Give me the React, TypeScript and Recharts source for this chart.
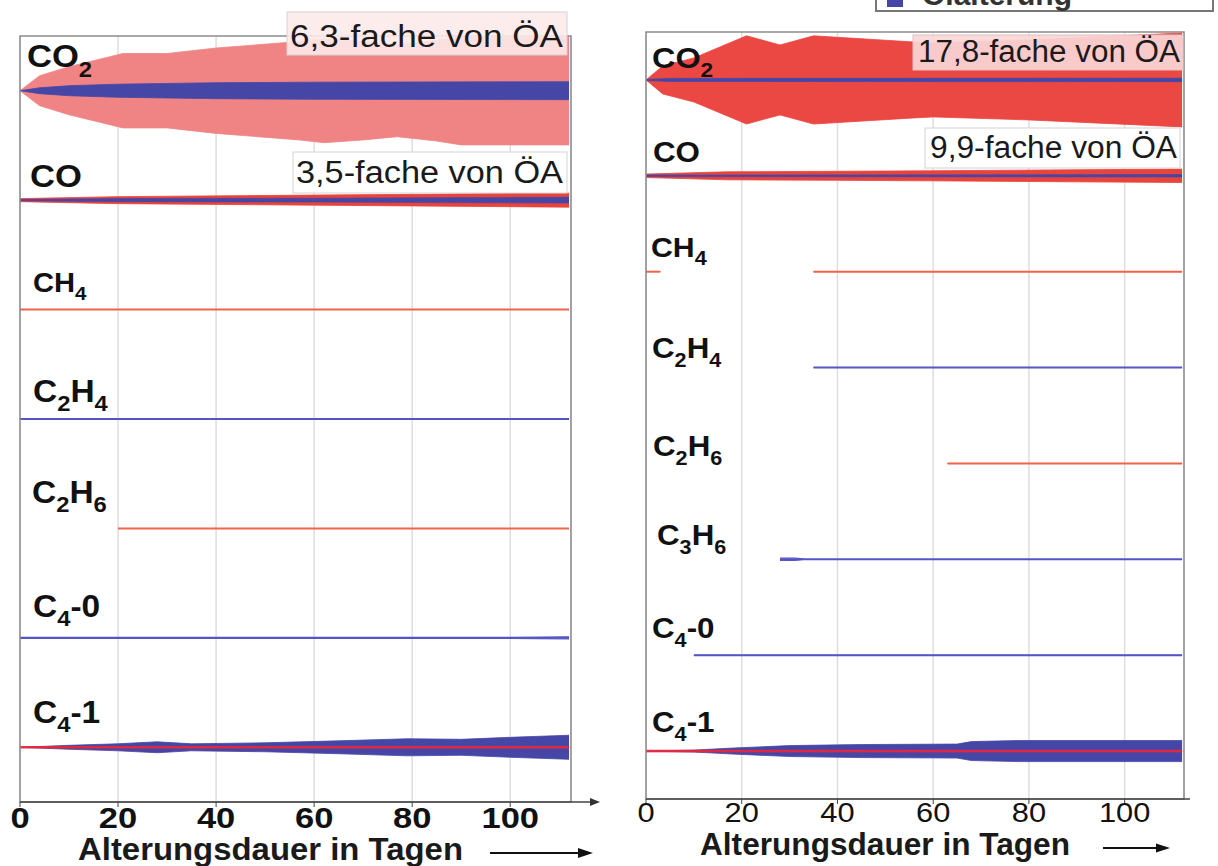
import React from "react";
import { ComposedChart, Area, XAxis, YAxis, CartesianGrid, ReferenceArea, ReferenceLine } from "recharts";

const FONT = "'Liberation Sans', Arial, Helvetica, sans-serif";
const ROW = 100;
const DAY_MAX = 112.4;
const dayTicks = [0, 20, 40, 60, 80, 100];

// ---------- gas names (rows, top to bottom) ----------
const leftGases = ["CO_2", "CO", "CH_4", "C_2H_4", "C_2H_6", "C_4-0", "C_4-1"];
const rightGases = ["CO_2", "CO", "CH_4", "C_2H_4", "C_2H_6", "C_3H_6", "C_4-0", "C_4-1"];

// ---------- left panel: half-widths of the bands (relative units, row = 100) ----------
const lCo2RedDays = [0, 4, 10, 21, 30, 40, 57, 62, 70, 77, 85, 90, 112];
const lCo2Red = [0, 13.7, 22, 34, 34, 39, 45, 47.5, 45, 42, 46, 49.5, 49.5];
const lCo2BlueDays = [0, 4, 10, 20, 40, 60, 112];
const lCo2Blue = [0, 2.7, 4.6, 6, 7.3, 7.8, 8.2];
const lCoDays = [0, 20, 60, 112];
const lCoRed = [1.4, 3.2, 4.6, 6.4];
const lCoBlue = [0.5, 1.4, 1.8, 2.7];
const lCh4Days = [0, 112];
const lCh4 = [0.4, 0.4];
const lC2h4Days = [0, 112];
const lC2h4 = [0.4, 0.4];
const lC2h6Days = [20, 112];
const lC2h6 = [0.4, 0.4];
const lC40Days = [0, 100, 112];
const lC40 = [0.4, 0.4, 0.9];
const lC41BlueDays = [0, 10, 20, 28, 35, 50, 65, 79, 90, 100, 112];
const lC41Blue = [0, 1.8, 3.2, 5, 3.2, 4.1, 5.9, 7.8, 7.3, 9.1, 11];
const lC41RedDays = [0, 112];
const lC41Red = [0.6, 0.6];

// ---------- right panel ----------
const rCo2RedDays = [0, 3.5, 10, 21, 28, 35, 56, 60, 80, 112];
const rCo2Red = [0, 14.6, 23, 46, 36.5, 46, 39.6, 38.6, 41.7, 49];
const rCo2BlueDays = [0, 5, 112];
const rCo2Blue = [0.5, 1.6, 1.8];
const rCoRedDays = [0, 17, 40, 59, 90, 112];
const rCoRed = [1.8, 4.2, 4.7, 5.2, 6.3, 7];
const rCoBlueDays = [0, 112];
const rCoBlue = [0.8, 1.3];
const rCh4aDays = [0, 3];
const rCh4a = [0.4, 0.4];
const rCh4bDays = [35, 112];
const rCh4b = [0.4, 0.4];
const rC2h4Days = [35, 112];
const rC2h4 = [0.4, 0.4];
const rC2h6Days = [63, 112];
const rC2h6 = [0.4, 0.4];
const rC3h6Days = [28, 31, 33, 112];
const rC3h6 = [1.2, 1.2, 0.4, 0.4];
const rC40Days = [10, 112];
const rC40 = [0.4, 0.4];
const rC41BlueDays = [0, 10, 18, 30, 45, 65, 68, 78, 112];
const rC41Blue = [0, 1, 3.1, 5.7, 6.8, 7.3, 9.9, 11, 11];
const rC41RedDays = [0, 112];
const rC41Red = [0.8, 0.8];

// ---------- colours ----------
const BLUE = "#4646a6";
const BLUE_LINE = "#5555c4";
const RED_LINE = "#f0604a";

type Series = { key: string; row: number; days: number[]; hw: number[]; color: string; sw: number };

const leftSeries: Series[] = [
  { key: "co2r", row: 0, days: lCo2RedDays, hw: lCo2Red, color: "#f08484", sw: 0.8 },
  { key: "co2b", row: 0, days: lCo2BlueDays, hw: lCo2Blue, color: BLUE, sw: 0.8 },
  { key: "cor", row: 1, days: lCoDays, hw: lCoRed, color: "#e8443c", sw: 0.8 },
  { key: "cob", row: 1, days: lCoDays, hw: lCoBlue, color: BLUE, sw: 0.6 },
  { key: "ch4", row: 2, days: lCh4Days, hw: lCh4, color: RED_LINE, sw: 1.2 },
  { key: "c2h4", row: 3, days: lC2h4Days, hw: lC2h4, color: BLUE_LINE, sw: 1.2 },
  { key: "c2h6", row: 4, days: lC2h6Days, hw: lC2h6, color: RED_LINE, sw: 1.2 },
  { key: "c40", row: 5, days: lC40Days, hw: lC40, color: BLUE_LINE, sw: 1.2 },
  { key: "c41b", row: 6, days: lC41BlueDays, hw: lC41Blue, color: BLUE, sw: 0.8 },
  { key: "c41r", row: 6, days: lC41RedDays, hw: lC41Red, color: "#e8283c", sw: 1 },
];

const rightSeries: Series[] = [
  { key: "co2r", row: 0, days: rCo2RedDays, hw: rCo2Red, color: "#eb4843", sw: 0.8 },
  { key: "co2b", row: 0, days: rCo2BlueDays, hw: rCo2Blue, color: BLUE, sw: 0.8 },
  { key: "cor", row: 1, days: rCoRedDays, hw: rCoRed, color: "#e8443c", sw: 0.8 },
  { key: "cob", row: 1, days: rCoBlueDays, hw: rCoBlue, color: BLUE, sw: 0.6 },
  { key: "ch4a", row: 2, days: rCh4aDays, hw: rCh4a, color: RED_LINE, sw: 1.2 },
  { key: "ch4b", row: 2, days: rCh4bDays, hw: rCh4b, color: RED_LINE, sw: 1.2 },
  { key: "c2h4", row: 3, days: rC2h4Days, hw: rC2h4, color: BLUE_LINE, sw: 1.2 },
  { key: "c2h6", row: 4, days: rC2h6Days, hw: rC2h6, color: RED_LINE, sw: 1.2 },
  { key: "c3h6", row: 5, days: rC3h6Days, hw: rC3h6, color: BLUE_LINE, sw: 1.2 },
  { key: "c40", row: 6, days: rC40Days, hw: rC40, color: BLUE_LINE, sw: 1.2 },
  { key: "c41b", row: 7, days: rC41BlueDays, hw: rC41Blue, color: BLUE, sw: 0.8 },
  { key: "c41r", row: 7, days: rC41RedDays, hw: rC41Red, color: "#e8283c", sw: 1 },
];

// label layout (x in px within panel, dy = offset of text baseline from the row centre, font size)
const leftLabelLayout = [
  { x: 27, dy: -24, size: 32 },
  { x: 30, dy: -13, size: 32 },
  { x: 33, dy: -18, size: 27 },
  { x: 33, dy: -17, size: 31 },
  { x: 32, dy: -25, size: 31 },
  { x: 33, dy: -21, size: 31 },
  { x: 33, dy: -24, size: 31 },
];
const rightLabelLayout = [
  { x: 32, dy: -12, size: 30 },
  { x: 33, dy: -14, size: 29 },
  { x: 31, dy: -15, size: 28 },
  { x: 32, dy: -10, size: 29 },
  { x: 33, dy: -7, size: 29 },
  { x: 37, dy: -14, size: 29 },
  { x: 32, dy: -17, size: 29 },
  { x: 32, dy: -19, size: 29 },
];

function buildData(series: Series[]) {
  const set = new Set<number>();
  series.forEach((s) => s.days.forEach((d) => set.add(d)));
  const days = Array.from(set).sort((a, b) => a - b);
  return days.map((day) => {
    const row: any = { day };
    series.forEach((s) => {
      const i = s.days.indexOf(day);
      const base = (s.row + 0.5) * ROW;
      row[s.key] = i >= 0 ? [base - s.hw[i], base + s.hw[i]] : null;
    });
    return row;
  });
}

function Formula({ x, y, text, size, weight = 700, sx = 1.08, fill = "#111" }: any) {
  const parts = text.split(/_(\d)/);
  const sub = Math.round(size * 0.7);
  const shift = Math.round(size * 0.3);
  let down = false;
  const spans: any[] = [];
  parts.forEach((p: string, i: number) => {
    if (p === "") return;
    const isSub = i % 2 === 1;
    let dy = 0;
    if (isSub && !down) {
      dy = shift;
      down = true;
    } else if (!isSub && down) {
      dy = -shift;
      down = false;
    }
    spans.push(
      <tspan key={i} fontSize={isSub ? sub : size} dy={dy}>
        {p}
      </tspan>
    );
  });
  return (
    <g transform={`translate(${x},${y}) scale(${sx},1)`}>
      <text x={0} y={0} fontFamily={FONT} fontWeight={weight} fontSize={size} fill={fill}>
        {spans}
      </text>
    </g>
  );
}

function GasLabel(props: any) {
  const { viewBox, text, l } = props;
  if (!viewBox) return null;
  const y = viewBox.y;
  return <Formula x={l.x} y={y + l.dy} text={text} size={l.size} />;
}

function DayTick(props: any) {
  const { x, y, payload, bold, size, dy, sx } = props;
  return (
    <g transform={`translate(${x},${y + dy}) scale(${sx},1)`}>
      <text x={0} y={0} textAnchor="middle" fontFamily={FONT} fontWeight={bold ? 700 : 400} fontSize={size} fill="#111">
        {payload.value}
      </text>
    </g>
  );
}

function Panel(props: any) {
  const { left, width, margin, names, series, layout, bold, tickSize, tickDy, tickSx, frameColor } = props;
  const rows = names.length;
  const data = buildData(series);
  const baselines = names.map((_: string, i: number) => (i + 0.5) * ROW);
  return (
    <div style={{ position: "absolute", left, top: 0, width, height: 866 }}>
      <ComposedChart width={width} height={866} data={data} margin={margin}>
        <CartesianGrid horizontal={false} stroke="#dedede" strokeWidth={1.5} />
        <XAxis
          dataKey="day"
          type="number"
          domain={[0, DAY_MAX]}
          ticks={dayTicks}
          interval={0}
          allowDataOverflow
          height={30}
          axisLine={{ stroke: "#444", strokeWidth: 1.5 }}
          tickLine={{ stroke: "#444" }}
          tickSize={5}
          tick={<DayTick bold={bold} size={tickSize} dy={tickDy} sx={tickSx} />}
        />
        <YAxis type="number" domain={[0, rows * ROW]} reversed hide />
        {series.map((s: Series) => (
          <Area
            key={s.key}
            dataKey={s.key}
            type="linear"
            connectNulls
            isAnimationActive={false}
            fill={s.color}
            fillOpacity={1}
            stroke={s.color}
            strokeWidth={s.sw}
            dot={false}
            activeDot={false}
          />
        ))}
        <ReferenceArea x1={0} x2={DAY_MAX} y1={0} y2={rows * ROW} fill="none" stroke={frameColor} strokeWidth={1.5} />
        {names.map((n: string, i: number) => (
          <ReferenceLine
            key={"lab" + i}
            y={baselines[i]}
            stroke="#fff"
            strokeOpacity={0}
            label={<GasLabel text={n} l={layout[i]} />}
          />
        ))}
      </ComposedChart>
    </div>
  );
}

function Overlay() {
  const txt = { fontFamily: FONT, fill: "#1a1a1a" } as any;
  return (
    <svg width={1218} height={866} style={{ position: "absolute", left: 0, top: 0, pointerEvents: "none" }}>
      {/* legend (cut off at top) */}
      <rect x={876} y={-30} width={337} height={41} fill="#fff" stroke="#777" strokeWidth={2} />
      <rect x={887} y={-8} width={16} height={15} fill={BLUE} />
      <text x={922} y={5} {...txt} fontSize={30} fontWeight={700} fill="#333">
        Ölalterung
      </text>

      {/* annotation boxes */}
      <rect x={287} y={12} width={280} height={43} fill="#fdeaea" fillOpacity={0.9} stroke="#d4d4d4" />
      <text x={290} y={47} {...txt} fontSize={31} textLength={273} lengthAdjust="spacingAndGlyphs">
        6,3-fache von ÖA
      </text>
      <rect x={293} y={152} width={274} height={41} fill="#fff" stroke="#d4d4d4" />
      <text x={296} y={183} {...txt} fontSize={31} textLength={267} lengthAdjust="spacingAndGlyphs">
        3,5-fache von ÖA
      </text>
      <rect x={913} y={35} width={270} height={35} fill="#f9d6d6" fillOpacity={0.92} stroke="#e0c0c0" />
      <text x={918} y={62} {...txt} fontSize={31} textLength={262} lengthAdjust="spacingAndGlyphs">
        17,8-fache von ÖA
      </text>
      <rect x={925} y={128} width={255} height={40} fill="#fff" stroke="#d4d4d4" />
      <text x={930} y={158} {...txt} fontSize={31} textLength={247} lengthAdjust="spacingAndGlyphs">
        9,9-fache von ÖA
      </text>

      {/* axis extensions */}
      <line x1={571} y1={802} x2={592} y2={802} stroke="#444" strokeWidth={1.5} />
      <polygon points="600,802 590,798 590,806" fill="#333" />
      <line x1={1184} y1={799} x2={1190} y2={799} stroke="#444" strokeWidth={1.5} />

      {/* axis titles */}
      <text x={78} y={860} {...txt} fontSize={31} fontWeight={700} textLength={385} lengthAdjust="spacingAndGlyphs">
        Alterungsdauer in Tagen
      </text>
      <line x1={490} y1={853} x2={580} y2={853} stroke="#111" strokeWidth={2} />
      <polygon points="593,853 578,848 578,858" fill="#111" />
      <text x={700} y={855} {...txt} fontSize={31} fontWeight={700} textLength={370} lengthAdjust="spacingAndGlyphs">
        Alterungsdauer in Tagen
      </text>
      <line x1={1103} y1={848} x2={1158} y2={848} stroke="#111" strokeWidth={2} />
      <polygon points="1170,848 1156,843.5 1156,852.5" fill="#111" />
    </svg>
  );
}

export default function App() {
  return (
    <div style={{ position: "absolute", left: 0, top: 0, width: 1218, height: 866, background: "#fff", overflow: "hidden" }}>
      <Panel
        left={0}
        width={620}
        margin={{ top: 36, left: 20, right: 49, bottom: 34 }}
        names={leftGases}
        series={leftSeries}
        layout={leftLabelLayout}
        bold
        tickSize={30}
        tickDy={19}
        tickSx={1.15}
        frameColor="#8c8c8c"
      />
      <Panel
        left={620}
        width={598}
        margin={{ top: 32, left: 26, right: 34, bottom: 37 }}
        names={rightGases}
        series={rightSeries}
        layout={rightLabelLayout}
        bold={false}
        tickSize={28}
        tickDy={16}
        tickSx={1.1}
        frameColor="#8c8c8c"
      />
      <Overlay />
    </div>
  );
}
